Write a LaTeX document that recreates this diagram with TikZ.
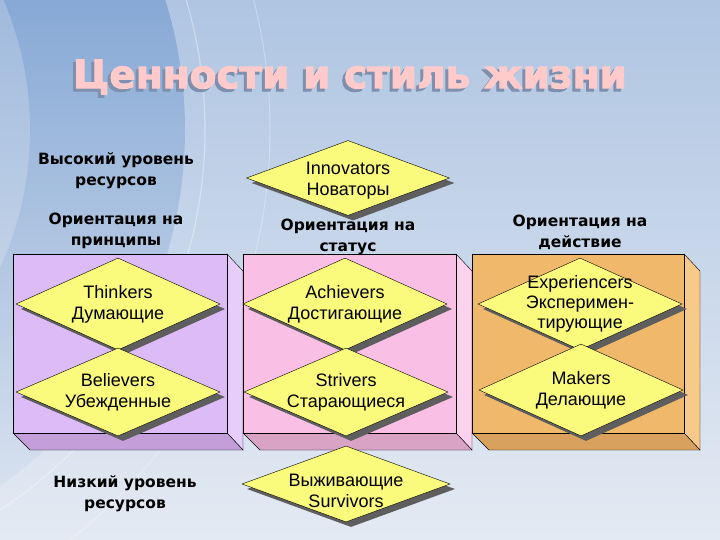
\documentclass[tikz,border=0pt]{standalone}
\usepackage{fontspec}
\setmainfont{Liberation Sans}
\newfontfamily\headfont{DejaVu Sans}
\newfontfamily\titlefont[UprightFont={* Bold}, FakeBold=2.5]{DejaVu Sans}
\usetikzlibrary{shapes.geometric,shadows}

\definecolor{bgtop}{HTML}{AFC5E2}
\definecolor{bgbot}{HTML}{E4EAF3}
\definecolor{bgdark}{HTML}{4F82C4}
\definecolor{titlepink}{HTML}{FFCACA}
\definecolor{titleshade}{HTML}{7F8FAE}
\definecolor{kindyellow}{HTML}{FAFA7C}
\definecolor{kindshadow}{HTML}{5E5E5E}
\definecolor{purpF}{HTML}{DDBBF6}
\definecolor{purpS}{HTML}{E7CDF9}
\definecolor{purpB}{HTML}{C49ED8}
\definecolor{pinkF}{HTML}{FABFE5}
\definecolor{pinkS}{HTML}{FCD2EE}
\definecolor{pinkB}{HTML}{D9A3C6}
\definecolor{oranF}{HTML}{F0B86A}
\definecolor{oranS}{HTML}{F7CA8A}
\definecolor{oranB}{HTML}{D8A25E}

\begin{document}
\begin{tikzpicture}[x=1pt, y=-1pt,
    kind/.style={diamond, draw=black, fill=kindyellow, inner sep=0pt,
      minimum width=204pt, minimum height=92pt,
      drop shadow={shadow xshift=5pt, shadow yshift=-5pt, fill=kindshadow, opacity=1}},
    kindtext/.style={align=center, font=\fontsize{18}{21}\selectfont},
    head/.style={align=center, font=\headfont\bfseries\fontsize{15.5}{21}\selectfont},
    titletext/.style={font=\titlefont\fontsize{39}{40}\selectfont}]

  % Background
  \useasboundingbox (0,0) rectangle (720,540);
  \shade[top color=bgtop, bottom color=bgbot] (0,0) rectangle (720,540);
  \begin{scope}
    \clip (0,0) rectangle (720,540);
    \shade[top color=bgdark, bottom color=bgbot, opacity=0.9] (-250,130) circle (435);
    \shade[top color=bgtop, bottom color=bgbot, opacity=0.45] (-300,130) circle (330);
    \draw[white, opacity=0.35, line width=1.2pt] (-250,130) circle (455);
    \draw[white, opacity=0.3, line width=1pt] (-250,130) circle (520);
  \end{scope}

  % Title
  \node[titletext, titleshade] (titleshadow) at (347,80) {Ценности и стиль жизни};
  \node[titletext, titlepink] (title) at (350,77) {Ценности и стиль жизни};

  % Boxes
  \foreach \xa/\xb/\col in {13/227/purp, 243/456/pink, 472/684/oran} {
    \filldraw[fill=\col S] (\xb,254) -- (\xb+16,271) -- (\xb+16,450) -- (\xb,433) -- cycle;
    \filldraw[fill=\col B] (\xa,433) -- (\xb,433) -- (\xb+16,450) -- (\xa+17,450) -- cycle;
    \filldraw[fill=\col F] (\xa,254) rectangle (\xb,433);
  }

  % Headings
  \node[head] (highres) at (116,171) {Высокий уровень\\ресурсов};
  \node[head] (principle) at (116,231) {Ориентация на\\принципы};
  \node[head] (status) at (348,237) {Ориентация на\\статус};
  \node[head] (action) at (580,232) {Ориентация на\\действие};
  \node[head] (lowres) at (125,494) {Низкий уровень\\ресурсов};

  % Types
  \node[kind, minimum width=203pt, minimum height=75pt,
    label={[kindtext, yshift=-3pt]center:{Innovators\\Новаторы}}] (innovators) at (348,178) {};
  \node[kind, label={[kindtext]center:{Thinkers\\Думающие}}] (thinkers) at (118,304) {};
  \node[kind, minimum height=88pt, label={[kindtext]center:{Believers\\Убежденные}}] (believers) at (118,392) {};
  \node[kind, label={[kindtext]center:{Achievers\\Достигающие}}] (achievers) at (345,304) {};
  \node[kind, minimum height=88pt, label={[kindtext]center:{Strivers\\Старающиеся}}] (strivers) at (346,392) {};
  \node[kind, label={[kindtext, font=\fontsize{18}{20}\selectfont]center:{Experiencers\\Эксперимен-\\тирующие}}] (experiencers) at (580,304) {};
  \node[kind, label={[kindtext]center:{Makers\\Делающие}}] (makers) at (581,390) {};
  \node[kind, minimum width=208pt, minimum height=76pt,
    label={[kindtext, yshift=-7pt]center:{Выживающие\\Survivors}}] (survivors) at (346,484) {};

\end{tikzpicture}
\end{document}
